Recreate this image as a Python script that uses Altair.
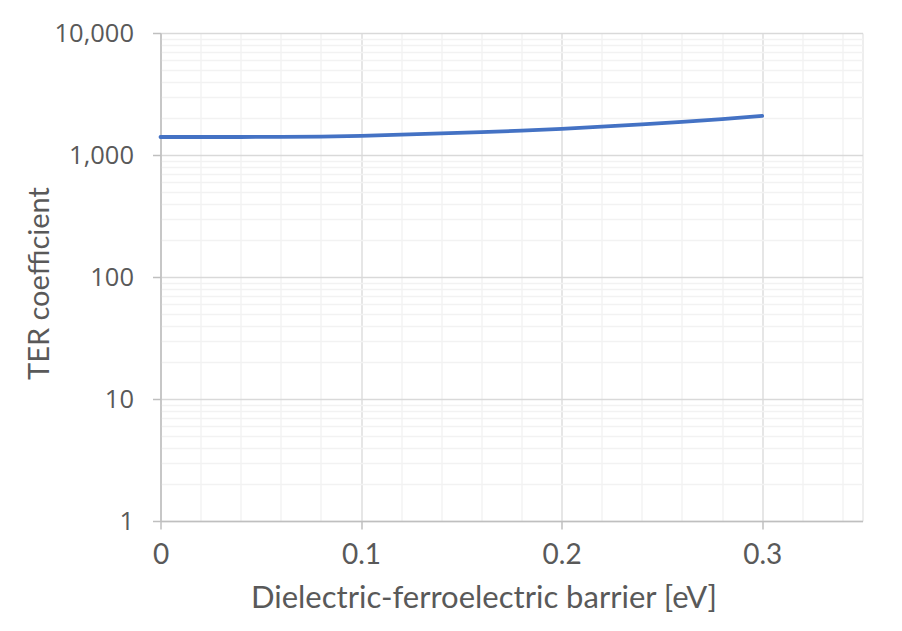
import altair as alt
import pandas as pd

barrier = [0.00, 0.02, 0.04, 0.06, 0.08, 0.10, 0.12, 0.14, 0.16, 0.18,
           0.20, 0.22, 0.24, 0.26, 0.28, 0.30]
ter = [1404, 1404, 1405, 1407, 1415, 1435, 1470, 1505, 1540, 1585,
       1640, 1710, 1785, 1865, 1970, 2090]

x_major = [0, 0.1, 0.2, 0.3]
x_minor = [0.02, 0.04, 0.06, 0.08, 0.12, 0.14, 0.16, 0.18, 0.22, 0.24,
           0.26, 0.28, 0.32, 0.34]
y_major = [1, 10, 100, 1000, 10000]
y_minor = [m * d for d in [1, 10, 100, 1000] for m in range(2, 10)]

df = pd.DataFrame({"barrier": barrier, "ter": ter})

xscale = alt.Scale(domain=[0, 0.35], nice=False, zero=False)
yscale = alt.Scale(type="log", domain=[1, 10000], nice=False)

base = alt.Chart(df)

minor = base.mark_line(opacity=0).encode(
    x=alt.X("barrier:Q", scale=xscale,
            axis=alt.Axis(values=x_minor, grid=True, gridColor="#f2f2f2",
                          gridWidth=1.3, labels=False, ticks=False,
                          domain=False, title=None, orient="bottom")),
    y=alt.Y("ter:Q", scale=yscale,
            axis=alt.Axis(values=y_minor, grid=True, gridColor="#f2f2f2",
                          gridWidth=1.3, labels=False, ticks=False,
                          domain=False, title=None, orient="left")),
)

main = base.mark_line(color="#4472C4", strokeWidth=3.8, strokeCap="round").encode(
    x=alt.X("barrier:Q", scale=xscale,
            axis=alt.Axis(values=x_major, format=".1~f", grid=True,
                          gridColor="#d9d9d9", gridWidth=1.3,
                          domainColor="#bfbfbf", domainWidth=1.5,
                          tickColor="#bfbfbf", tickSize=8, tickWidth=1.5,
                          labelFont="Lato", labelFontSize=28, labelFlush=False,
                          labelColor="#595959", labelPadding=12,
                          title="Dielectric-ferroelectric barrier [eV]",
                          titleFont="Lato", titleFontSize=31,
                          titleFontWeight="normal", titleColor="#595959",
                          titleX=323, titleY=77, titleBaseline="middle",
                          titleAnchor="middle", orient="bottom")),
    y=alt.Y("ter:Q", scale=yscale,
            axis=alt.Axis(values=y_major, format=",", grid=True,
                          gridColor="#d9d9d9", gridWidth=1.3,
                          domainColor="#bfbfbf", domainWidth=1.5,
                          tickColor="#bfbfbf", tickSize=8, tickWidth=1.5,
                          labelFont="Open Sans", labelFontSize=25.5,
                          labelColor="#595959", labelPadding=19,
                          title="TER coefficient",
                          titleFont="Lato", titleFontSize=29,
                          titleFontWeight="normal", titleColor="#595959",
                          titleX=-121, titleY=250, titleAngle=-90,
                          titleBaseline="middle", titleAnchor="middle",
                          orient="left")),
)

chart = alt.layer(minor, main).resolve_axis(
    x="independent", y="independent"
).properties(
    width=702, height=488,
    autosize=alt.AutoSizeParams(type="none"),
    padding={"left": 152.5, "top": 25, "right": 20, "bottom": 98},
).configure_view(stroke=None).configure(background="white")

chart.save("out.html", embed_options={"renderer": "svg", "actions": False})
